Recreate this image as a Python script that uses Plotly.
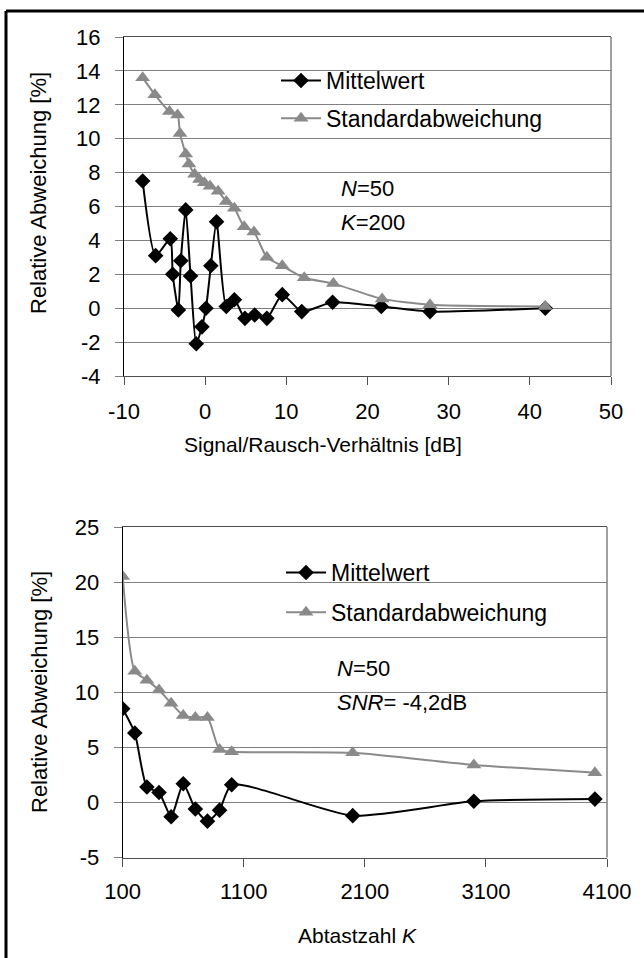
import plotly.graph_objects as go

# ---------------- data: top chart (SNR sweep, N=50, K=200) ----------------
snr_mean_x = [-7.7, -6.1, -4.3, -4.0, -3.3, -3.0, -2.4, -1.8, -1.1, -0.4, 0.1, 0.7, 1.4,
              2.6, 3.6, 4.9, 6.1, 7.6, 9.5, 11.9, 15.7, 21.7, 27.7, 41.9]
snr_mean_y = [7.5, 3.1, 4.1, 2.0, -0.1, 2.8, 5.8, 1.9, -2.1, -1.1, 0.0, 2.5, 5.1,
              0.1, 0.5, -0.6, -0.4, -0.6, 0.8, -0.2, 0.35, 0.1, -0.2, 0.0]

snr_std_x = [-7.7, -6.2, -4.4, -3.4, -3.1, -2.4, -2.0, -1.3, -0.7, -0.1, 0.6, 1.6,
             2.6, 3.6, 4.8, 6.0, 7.6, 9.5, 12.2, 15.8, 21.8, 27.7, 41.9]
snr_std_y = [13.6, 12.6, 11.6, 11.4, 10.3, 9.1, 8.5, 7.9, 7.6, 7.4, 7.2, 6.9,
             6.3, 5.9, 4.8, 4.5, 3.0, 2.5, 1.8, 1.45, 0.55, 0.2, 0.1]

# ---------------- data: bottom chart (K sweep, N=50, SNR=-4.2 dB) ----------------
k_values = [100, 200, 300, 400, 500, 600, 700, 800, 900, 1000, 2000, 3000, 4000]
k_mean_y = [8.5, 6.3, 1.4, 0.9, -1.3, 1.7, -0.6, -1.7, -0.7, 1.6, -1.2, 0.1, 0.3]
k_std_y = [20.5, 11.9, 11.1, 10.2, 9.0, 7.9, 7.7, 7.7, 4.8, 4.6, 4.5, 3.4, 2.7]

series_names = ["Mittelwert", "Standardabweichung"]

# tick values / labels (hyphen minus as in the original)
top_x_ticks = [-10, 0, 10, 20, 30, 40, 50]
top_y_ticks = [-4, -2, 0, 2, 4, 6, 8, 10, 12, 14, 16]
bottom_x_ticks = [100, 1100, 2100, 3100, 4100]
bottom_y_ticks = [-5, 0, 5, 10, 15, 20, 25]
top_x_labels = [str(v) for v in top_x_ticks]
top_y_labels = [str(v) for v in top_y_ticks]
bottom_x_labels = [str(v) for v in bottom_x_ticks]
bottom_y_labels = [str(v) for v in bottom_y_ticks]

W, H = 644, 958
FONT = "Liberation Sans, Arial, sans-serif"
GRID = "#808080"
GRAYTRI = "#8a8a8a"


def px(x):
    return x / W


def py(y):
    return 1 - y / H


fig = go.Figure()

# top chart traces
fig.add_trace(go.Scatter(x=snr_mean_x, y=snr_mean_y, name=series_names[0],
                         mode="lines+markers", line=dict(color="black", width=2, shape="spline", smoothing=0.6),
                         marker=dict(symbol="diamond", size=12, color="black"),
                         xaxis="x", yaxis="y", legend="legend", legendgroup="a"))
fig.add_trace(go.Scatter(x=snr_std_x, y=snr_std_y, name=series_names[1],
                         mode="lines+markers", line=dict(color=GRAYTRI, width=2, shape="spline", smoothing=0.6),
                         marker=dict(symbol="triangle-up", size=13, color=GRAYTRI),
                         xaxis="x", yaxis="y", legend="legend", legendgroup="b"))

# bottom chart traces
fig.add_trace(go.Scatter(x=k_values, y=k_mean_y, name=series_names[0],
                         mode="lines+markers", line=dict(color="black", width=2, shape="spline", smoothing=0.6),
                         marker=dict(symbol="diamond", size=12, color="black"),
                         xaxis="x2", yaxis="y2", legend="legend2", legendgroup="c"))
fig.add_trace(go.Scatter(x=k_values, y=k_std_y, name=series_names[1],
                         mode="lines+markers", line=dict(color=GRAYTRI, width=2, shape="spline", smoothing=0.6),
                         marker=dict(symbol="triangle-up", size=13, color=GRAYTRI),
                         xaxis="x2", yaxis="y2", legend="legend2", legendgroup="d"))

tickfont = dict(family=FONT, size=22, color="black")
titlefont = dict(family=FONT, size=22, color="black")
xtitlefont = dict(family=FONT, size=21, color="black")

xcommon = dict(showgrid=False, zeroline=False, showline=True, linecolor="#505050", linewidth=1,
               mirror=True, ticks="outside", ticklen=8, tickcolor="#505050", tickfont=tickfont,
               automargin=False, tickmode="array")
ycommon = dict(showgrid=True, gridcolor=GRID, gridwidth=1, zeroline=False, showline=True,
               linecolor="black", linewidth=1, ticks="outside", ticklen=8, tickcolor=GRID,
               tickfont=tickfont, automargin=False, tickmode="array")

fig.update_layout(
    template="none",
    width=W, height=H,
    margin=dict(l=0, r=0, t=0, b=0, pad=0),
    paper_bgcolor="white", plot_bgcolor="white",
    font=dict(family=FONT, color="black"),
    xaxis=dict(domain=[px(124), px(611)], range=[top_x_ticks[0], top_x_ticks[-1]],
               tickvals=top_x_ticks, ticktext=top_x_labels,
               anchor="y", ticklabelstandoff=8, **xcommon),
    yaxis=dict(domain=[py(376), py(37)], range=[top_y_ticks[0], top_y_ticks[-1]],
               tickvals=top_y_ticks, ticktext=top_y_labels,
               anchor="x", ticklabelstandoff=10, **ycommon),
    xaxis2=dict(domain=[px(122.7), px(607)], range=[bottom_x_ticks[0], bottom_x_ticks[-1]],
                tickvals=bottom_x_ticks, ticktext=bottom_x_labels,
                anchor="y2", ticklabelstandoff=6, **xcommon),
    yaxis2=dict(domain=[py(857.5), py(527)], range=[bottom_y_ticks[0], bottom_y_ticks[-1]],
                tickvals=bottom_y_ticks, ticktext=bottom_y_labels,
                anchor="x2", ticklabelstandoff=10, **ycommon),
    legend=dict(x=px(276), y=py(59), xanchor="left", yanchor="top", bgcolor="rgba(0,0,0,0)",
                font=dict(family=FONT, size=23, color="black"), tracegroupgap=5, itemwidth=40),
    legend2=dict(x=px(281), y=py(551), xanchor="left", yanchor="top", bgcolor="rgba(0,0,0,0)",
                 font=dict(family=FONT, size=23, color="black"), tracegroupgap=7, itemwidth=40),
    showlegend=True,
)

# axis titles (placed like the original, slightly off-centre)
fig.add_annotation(xref="paper", yref="paper", x=px(323), y=py(444), xanchor="center", yanchor="middle",
                   text="Signal/Rausch-Verhältnis [dB]", showarrow=False, font=xtitlefont)
fig.add_annotation(xref="paper", yref="paper", x=px(357), y=py(935), xanchor="center", yanchor="middle",
                   text="Abtastzahl <i>K</i>", showarrow=False, font=xtitlefont)
fig.add_annotation(xref="paper", yref="paper", x=px(39), y=py(193), xanchor="center", yanchor="middle",
                   text="Relative Abweichung [%]", textangle=-90, showarrow=False, font=titlefont)
fig.add_annotation(xref="paper", yref="paper", x=px(39), y=py(692), xanchor="center", yanchor="middle",
                   text="Relative Abweichung [%]", textangle=-90, showarrow=False, font=titlefont)

# white boxes behind legend/text that interrupt gridlines (layer between grid and traces)
white_boxes = [
    (247, 575, 60, 112), (321, 568, 128, 148), (327, 448, 150, 250),
    (253, 573, 575, 590), (325, 508, 625, 700),
]
for x0, x1, y0, y1 in white_boxes:
    fig.add_shape(type="rect", xref="paper", yref="paper", x0=px(x0), x1=px(x1), y0=py(y1), y1=py(y0),
                  fillcolor="white", line=dict(width=0), layer="between")

# right plot-area borders (gray)
for xa, ya in (("x", "y"), ("x2", "y2")):
    fig.add_shape(type="line", xref=f"{xa} domain", yref=f"{ya} domain", x0=1, x1=1, y0=0, y1=1,
                  line=dict(color="#808080", width=1.5))

# outer black frame (left and top edges)
fig.add_shape(type="line", xref="paper", yref="paper", x0=px(6), x1=px(6), y0=-0.05, y1=py(11),
              line=dict(color="black", width=3))
fig.add_shape(type="line", xref="paper", yref="paper", x0=px(6), x1=1.05, y0=py(11), y1=py(11),
              line=dict(color="black", width=3))

# text notes
fig.add_annotation(xref="paper", yref="paper", x=px(339), y=py(188), xanchor="left", yanchor="middle",
                   text="<i>N</i>=50", showarrow=False, font=dict(family=FONT, size=22, color="black"))
fig.add_annotation(xref="paper", yref="paper", x=px(339), y=py(222), xanchor="left", yanchor="middle",
                   text="<i>K</i>=200", showarrow=False, font=dict(family=FONT, size=22, color="black"))
fig.add_annotation(xref="paper", yref="paper", x=px(335), y=py(668), xanchor="left", yanchor="middle",
                   text="<i>N</i>=50", showarrow=False, font=dict(family=FONT, size=22, color="black"))
fig.add_annotation(xref="paper", yref="paper", x=px(335), y=py(702), xanchor="left", yanchor="middle",
                   text="<i>SNR</i>= -4,2dB", showarrow=False, font=dict(family=FONT, size=22, color="black"))

fig.write_html("out.html", config={"displayModeBar": False},
               post_script="document.body.style.margin='0';document.body.style.overflow='hidden';")
